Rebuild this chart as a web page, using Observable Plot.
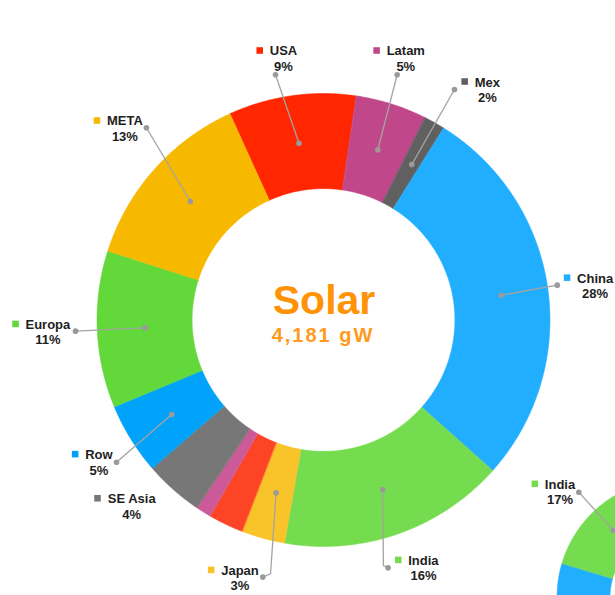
<!DOCTYPE html>
<html><head><meta charset="utf-8">
<script src="https://cdn.jsdelivr.net/npm/d3@7"></script>
<script src="https://cdn.jsdelivr.net/npm/@observablehq/plot@0.6"></script>
<style>
html,body{margin:0;padding:0;background:#fff;}
#chart{width:615px;height:595px;overflow:hidden;}
</style></head><body><div id="chart"></div>
<script>
// ---- data (main ring, clockwise from the META/USA boundary) ----
const regions   = ["USA","Latam","Mex","China","India","Japan","","","SE Asia","Row","Europa","META"];
const shares    = [9.1, 5.1, 1.5, 27.7, 16.2, 3.1, 2.5, 1.1, 4.2, 5.1, 11.2, 13.3];
const pctLabels = ["9%","5%","2%","28%","16%","3%","","","4%","5%","11%","13%"];
const colors    = ["#ff2600","#c0488a","#606060","#22aefe","#75dc4f","#f9c32a","#fd4526","#cd5a98","#777777","#00a3f9","#62d83a","#f6b900"];
const centerTitle = "Solar";
const centerValue = "4,181 gW";
// ---- data (second ring, partly outside the frame) ----
const regions2   = ["China","India"];
const shares2    = [30, 17];
const pctLabels2 = ["", "17%"];
const colors2    = ["#22aefe","#75dc4f"];

// ---- layout (data units: 1 = outer radius of main ring) ----
const START = -24.4, R_IN = 0.58;
const C2 = {x: 1.552, y: -1.223, rOut: 0.521, rIn: 0.287, start: 178.6};
const labelLayout = {
  "USA":     {x: -0.179, y: 1.170, dot: [-0.214, 1.085]},
  "Latam":   {x:  0.361, y: 1.170, dot: [ 0.323, 1.085]},
  "Mex":     {x:  0.721, y: 1.033, dot: [ 0.576, 1.020]},
  "China":   {x:  1.197, y: 0.167, dot: [ 1.030, 0.156]},
  "India":   {x:  0.439, y:-1.079, dot: [ 0.283,-1.092], elbow: [0.262,-1.082]},
  "Japan":   {x: -0.371, y:-1.123, dot: [-0.270,-1.133], elbow: [-0.236,-1.118]},
  "SE Asia": {x: -0.849, y:-0.807},
  "Row":     {x: -0.994, y:-0.612, dot: [-0.916,-0.626]},
  "Europa":  {x: -1.219, y:-0.037, dot: [-1.097,-0.047]},
  "META":    {x: -0.879, y: 0.861, dot: [-0.784, 0.851]}
};
const label2Layout = {"India": {x: 1.042, y: -0.743, dot: [1.125, -0.758]}};

const PX = 226.5; // pixels per unit
const FONT = "'Liberation Sans', Arial, Helvetica, sans-serif";

function ring(names, values, total, start, cx, cy, rOut, rIn, cols, key) {
  const pts = [], mids = [];
  let a0 = start;
  values.forEach((v, i) => {
    const span = v / total * 360;
    const n = Math.max(2, Math.ceil(span / 0.4));
    for (let k = 0; k <= n; k++) {
      const a = (a0 + span * k / n) * Math.PI / 180;
      pts.push({key: key + i, color: cols[i],
        xi: cx + rIn * Math.sin(a), yi: cy + rIn * Math.cos(a),
        xo: cx + rOut * Math.sin(a), yo: cy + rOut * Math.cos(a)});
    }
    const am = (a0 + span / 2) * Math.PI / 180, rm = (rOut + rIn) / 2;
    mids.push({name: names[i], x: cx + rm * Math.sin(am), y: cy + rm * Math.cos(am)});
    a0 += span;
  });
  return {pts, mids};
}

const main = ring(regions, shares, d3.sum(shares), START, 0, 0, 1, R_IN, colors, "m");
const second = ring(regions2, shares2, 100, C2.start, C2.x, C2.y, C2.rOut, C2.rIn, colors2, "s");

const ctx = document.createElement("canvas").getContext("2d");
ctx.font = "bold 13px " + FONT;

function buildLabels(names, pcts, cols, layout, mids, tag) {
  const labels = [], leaders = [], dots = [];
  names.forEach((nm, i) => {
    const L = layout[nm];
    if (!nm || !L || !pcts[i]) return;
    const w = ctx.measureText(nm).width;
    labels.push({name: nm, pct: pcts[i], color: cols[i], x: L.x, y: L.y, sx: L.x - (w / 2 + 10) / PX});
    if (L.dot) {
      const m = mids[i];
      const path = [[m.x, m.y]];
      if (L.elbow) path.push(L.elbow);
      path.push(L.dot);
      path.forEach(p => leaders.push({k: tag + i, x: p[0], y: p[1]}));
      dots.push({x: m.x, y: m.y}, {x: L.dot[0], y: L.dot[1]});
    }
  });
  return {labels, leaders, dots};
}
const lab1 = buildLabels(regions, pctLabels, colors, labelLayout, main.mids, "a");
const lab2 = buildLabels(regions2, pctLabels2, colors2, label2Layout, second.mids, "b");
const labels = lab1.labels.concat(lab2.labels);
const leaders = lab1.leaders.concat(lab2.leaders);
const dots = lab1.dots.concat(lab2.dots);

const chart = Plot.plot({
  width: 615, height: 595,
  marginTop: 0, marginRight: 0, marginBottom: 0, marginLeft: 0,
  style: {background: "#fff", fontFamily: FONT},
  x: {domain: [-323.5 / PX, (615 - 323.5) / PX], range: [0, 615], axis: null},
  y: {domain: [-(595 - 320) / PX, 320 / PX], range: [595, 0], axis: null},
  color: {type: "identity"},
  marks: [
    Plot.area(main.pts, {x1: "xi", y1: "yi", x2: "xo", y2: "yo", z: "key", fill: "color", stroke: "color", strokeWidth: 0.5, curve: "linear"}),
    Plot.area(second.pts, {x1: "xi", y1: "yi", x2: "xo", y2: "yo", z: "key", fill: "color", stroke: "color", strokeWidth: 0.5, curve: "linear"}),
    Plot.line(leaders, {x: "x", y: "y", z: "k", stroke: "#a3a3a3", strokeWidth: 1.3, curve: "linear"}),
    Plot.dot(dots, {x: "x", y: "y", r: 2.8, fill: "#9a9a9a", stroke: "none"}),
    Plot.dot(labels, {x: "sx", y: "y", dy: -5, symbol: "square", r: 3.7, fill: "color", stroke: "none"}),
    Plot.text(labels, {x: "x", y: "y", text: "name", lineAnchor: "bottom", textAnchor: "middle", fontSize: 13, fontWeight: "bold", fill: "#1e1e1e"}),
    Plot.text(labels, {x: "x", y: "y", dy: 15.5, text: "pct", lineAnchor: "bottom", textAnchor: "middle", fontSize: 13, fontWeight: "bold", fill: "#1e1e1e"}),
    Plot.text([centerTitle], {x: 0, y: 0, dy: -6.5, text: d => d, lineAnchor: "bottom", textAnchor: "middle", fontSize: 41, fontWeight: "bold", fill: "#ff9305"}),
    Plot.text([centerValue], {x: 0, y: 0, dy: 21, dx: -1, text: d => d, lineAnchor: "bottom", textAnchor: "middle", fontSize: 20, fontWeight: "bold", fill: "#ff9a1c", className: "center-value"})
  ]
});
d3.select(chart).selectAll(".center-value text").attr("letter-spacing", "2px");
document.getElementById("chart").appendChild(chart);
</script></body></html>
